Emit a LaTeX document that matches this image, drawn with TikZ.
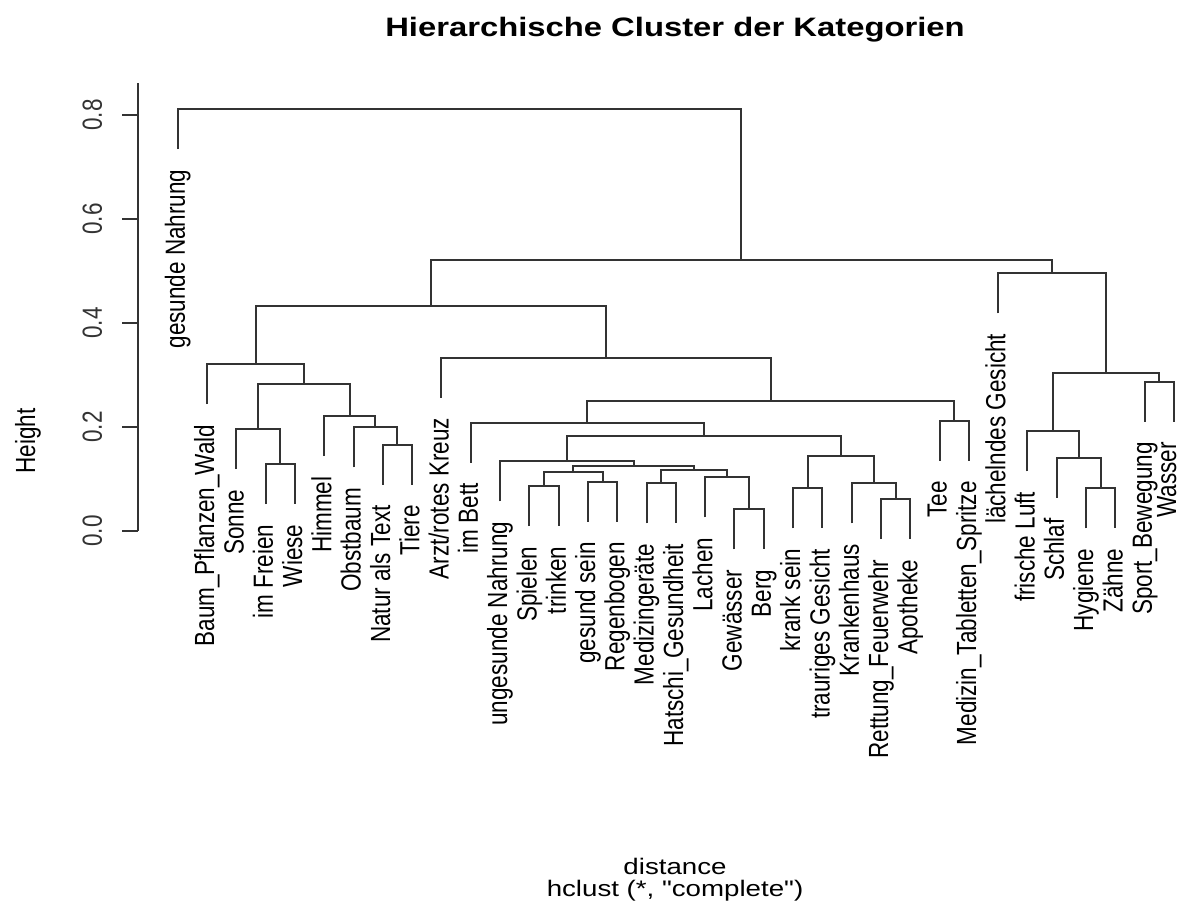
\documentclass[tikz,border=0pt]{standalone}
\usepackage{fontspec}
\setmainfont{Liberation Sans}
\newfontfamily\tallfont[FakeStretch=0.813]{Liberation Sans}
\newfontfamily\widefont[FakeStretch=1.23]{Liberation Sans}
\newcommand\hang{0.077}

\begin{document}
\begin{tikzpicture}[x=14.65pt, y=260pt,
    line width=1pt,
    branch/.style = {draw=black!80},
    leaf/.style = {
      font = \tallfont\fontsize{13.84}{15}\selectfont,
      anchor = east,
      inner sep = 0pt,
      text height = 7.2pt,
      text depth = 0pt,
      yshift = -9.75pt,
      rotate = 90
    },
    ticklab/.style = {
      font = \tallfont\fontsize{13.84}{15}\selectfont,
      anchor = base,
      inner sep = 0pt,
      rotate = 90
    },
    caption/.style = {
      font = \widefont\fontsize{11.25}{13}\selectfont,
      anchor = base,
      inner sep = 0pt
    }
  ]
  \fill[white] (-6.065,-0.7269) rectangle (34.174,1.0212);
  \useasboundingbox (-6.065,-0.7269) rectangle (34.174,1.0212);

  % axis
  \draw[black!80] (-1.365,0) -- (-1.365,0.8615);
  \foreach \v in {0.0,0.2,0.4,0.6,0.8}
    \draw[black!80] (-1.365,\v) -- (-1.911,\v) node[ticklab] at (-2.584,\v) {\v};
  \node[ticklab] (ylab) at (-4.870,0.1731) {Height};

  % leaves
  \coordinate (l0) at (0,{0.8115-\hang});
  \coordinate (l1) at (1,{0.3212-\hang});
  \coordinate (l2) at (2,{0.1962-\hang});
  \coordinate (l3) at (3,{0.1288-\hang});
  \coordinate (l4) at (4,{0.1288-\hang});
  \coordinate (l5) at (5,{0.2212-\hang});
  \coordinate (l6) at (6,{0.1994-\hang});
  \coordinate (l7) at (7,{0.1660-\hang});
  \coordinate (l8) at (8,{0.1660-\hang});
  \coordinate (l9) at (9,{0.3337-\hang});
  \coordinate (l10) at (10,{0.2083-\hang});
  \coordinate (l11) at (11,{0.1342-\hang});
  \coordinate (l12) at (12,{0.0865-\hang});
  \coordinate (l13) at (13,{0.0865-\hang});
  \coordinate (l14) at (14,{0.0948-\hang});
  \coordinate (l15) at (15,{0.0948-\hang});
  \coordinate (l16) at (16,{0.0917-\hang});
  \coordinate (l17) at (17,{0.0917-\hang});
  \coordinate (l18) at (18,{0.1033-\hang});
  \coordinate (l19) at (19,{0.0417-\hang});
  \coordinate (l20) at (20,{0.0417-\hang});
  \coordinate (l21) at (21,{0.0821-\hang});
  \coordinate (l22) at (22,{0.0821-\hang});
  \coordinate (l23) at (23,{0.0917-\hang});
  \coordinate (l24) at (24,{0.0615-\hang});
  \coordinate (l25) at (25,{0.0615-\hang});
  \coordinate (l26) at (26,{0.2121-\hang});
  \coordinate (l27) at (27,{0.2121-\hang});
  \coordinate (l28) at (28,{0.4956-\hang});
  \coordinate (l29) at (29,{0.1917-\hang});
  \coordinate (l30) at (30,{0.1410-\hang});
  \coordinate (l31) at (31,{0.0821-\hang});
  \coordinate (l32) at (32,{0.0821-\hang});
  \coordinate (l33) at (33,{0.2871-\hang});
  \coordinate (l34) at (34,{0.2871-\hang});

  \node[leaf] (t0) at (l0) {gesunde Nahrung};
  \node[leaf] (t1) at (l1) {Baum\_Pflanzen\_Wald};
  \node[leaf] (t2) at (l2) {Sonne};
  \node[leaf] (t3) at (l3) {im Freien};
  \node[leaf] (t4) at (l4) {Wiese};
  \node[leaf] (t5) at (l5) {Himmel};
  \node[leaf] (t6) at (l6) {Obstbaum};
  \node[leaf] (t7) at (l7) {Natur als Text};
  \node[leaf] (t8) at (l8) {Tiere};
  \node[leaf] (t9) at (l9) {Arzt/rotes Kreuz};
  \node[leaf] (t10) at (l10) {im Bett};
  \node[leaf] (t11) at (l11) {ungesunde Nahrung};
  \node[leaf] (t12) at (l12) {Spielen};
  \node[leaf] (t13) at (l13) {trinken};
  \node[leaf] (t14) at (l14) {gesund sein};
  \node[leaf] (t15) at (l15) {Regenbogen};
  \node[leaf] (t16) at (l16) {Medizingeräte};
  \node[leaf] (t17) at (l17) {Hatschi\_Gesundheit};
  \node[leaf] (t18) at (l18) {Lachen};
  \node[leaf] (t19) at (l19) {Gewässer};
  \node[leaf] (t20) at (l20) {Berg};
  \node[leaf] (t21) at (l21) {krank sein};
  \node[leaf] (t22) at (l22) {trauriges Gesicht};
  \node[leaf] (t23) at (l23) {Krankenhaus};
  \node[leaf] (t24) at (l24) {Rettung\_Feuerwehr};
  \node[leaf] (t25) at (l25) {Apotheke};
  \node[leaf] (t26) at (l26) {Tee};
  \node[leaf] (t27) at (l27) {Medizin\_Tabletten\_Spritze};
  \node[leaf] (t28) at (l28) {lächelndes Gesicht};
  \node[leaf] (t29) at (l29) {frische Luft};
  \node[leaf] (t30) at (l30) {Schlaf};
  \node[leaf] (t31) at (l31) {Hygiene};
  \node[leaf] (t32) at (l32) {Zähne};
  \node[leaf] (t33) at (l33) {Sport\_Bewegung};
  \node[leaf, yshift=2.5pt] (t34) at (l34) {Wasser};

  % merges
  \coordinate (fw) at (3.5,0.1288);
  \coordinate (sonne) at (2.75,0.1962);
  \coordinate (nt) at (7.5,0.1660);
  \coordinate (obst) at (6.75,0.1994);
  \coordinate (himmel) at (5.875,0.2212);
  \coordinate (natur) at (4.3125,0.2827);
  \coordinate (baum) at (2.65625,0.3212);
  \coordinate (sp) at (12.5,0.0865);
  \coordinate (gr) at (14.5,0.0948);
  \coordinate (spiel) at (13.5,0.1129);
  \coordinate (mh) at (16.5,0.0917);
  \coordinate (gb) at (19.5,0.0417);
  \coordinate (lachen) at (18.75,0.1033);
  \coordinate (med) at (17.625,0.1167);
  \coordinate (mitte) at (15.5625,0.1256);
  \coordinate (ung) at (13.28125,0.1342);
  \coordinate (kt) at (21.5,0.0821);
  \coordinate (ra) at (24.5,0.0615);
  \coordinate (kh) at (23.75,0.0917);
  \coordinate (krank) at (22.625,0.1448);
  \coordinate (uk) at (17.953,0.1837);
  \coordinate (bett) at (13.977,0.2083);
  \coordinate (tm) at (26.5,0.2121);
  \coordinate (bt) at (20.238,0.2494);
  \coordinate (arzt) at (14.619,0.3337);
  \coordinate (links) at (8.638,0.4333);
  \coordinate (hz) at (31.5,0.0821);
  \coordinate (schlaf) at (30.75,0.1410);
  \coordinate (luft) at (29.875,0.1917);
  \coordinate (sw) at (33.5,0.2871);
  \coordinate (fs) at (31.6875,0.3044);
  \coordinate (lae) at (29.844,0.4956);
  \coordinate (haupt) at (19.241,0.5212);
  \coordinate (root) at (9.62,0.8115);

  \draw[branch] (l3) |- (fw) -| (l4);
  \draw[branch] (l2) |- (sonne) -| (fw);
  \draw[branch] (l7) |- (nt) -| (l8);
  \draw[branch] (l6) |- (obst) -| (nt);
  \draw[branch] (l5) |- (himmel) -| (obst);
  \draw[branch] (sonne) |- (natur) -| (himmel);
  \draw[branch] (l1) |- (baum) -| (natur);
  \draw[branch] (l12) |- (sp) -| (l13);
  \draw[branch] (l14) |- (gr) -| (l15);
  \draw[branch] (sp) |- (spiel) -| (gr);
  \draw[branch] (l16) |- (mh) -| (l17);
  \draw[branch] (l19) |- (gb) -| (l20);
  \draw[branch] (l18) |- (lachen) -| (gb);
  \draw[branch] (mh) |- (med) -| (lachen);
  \draw[branch] (spiel) |- (mitte) -| (med);
  \draw[branch] (l11) |- (ung) -| (mitte);
  \draw[branch] (l21) |- (kt) -| (l22);
  \draw[branch] (l24) |- (ra) -| (l25);
  \draw[branch] (l23) |- (kh) -| (ra);
  \draw[branch] (kt) |- (krank) -| (kh);
  \draw[branch] (ung) |- (uk) -| (krank);
  \draw[branch] (l10) |- (bett) -| (uk);
  \draw[branch] (l26) |- (tm) -| (l27);
  \draw[branch] (bett) |- (bt) -| (tm);
  \draw[branch] (l9) |- (arzt) -| (bt);
  \draw[branch] (baum) |- (links) -| (arzt);
  \draw[branch] (l31) |- (hz) -| (l32);
  \draw[branch] (l30) |- (schlaf) -| (hz);
  \draw[branch] (l29) |- (luft) -| (schlaf);
  \draw[branch] (l33) |- (sw) -| (l34);
  \draw[branch] (luft) |- (fs) -| (sw);
  \draw[branch] (l28) |- (lae) -| (fs);
  \draw[branch] (links) |- (haupt) -| (lae);
  \draw[branch] (l0) |- (root) -| (haupt);

  % titles
  \node[caption, font=\widefont\bfseries\fontsize{13.33}{15}\selectfont] (title) at (16.973,0.9506) {Hierarchische Cluster der Kategorien};
  \node[caption] (xlab) at (16.973,-0.6596) {distance};
  \node[caption] (sub) at (16.973,-0.7029) {hclust (*, "complete")};
\end{tikzpicture}
\end{document}
